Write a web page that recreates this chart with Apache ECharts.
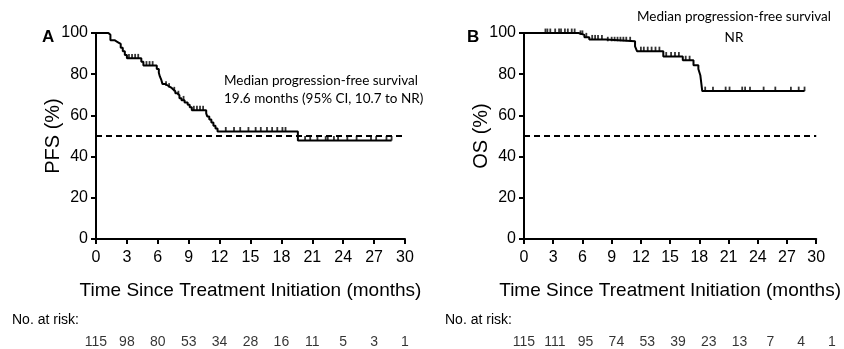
<!DOCTYPE html>
<html>
<head>
<meta charset="utf-8">
<script src="https://cdn.jsdelivr.net/npm/echarts@6/dist/echarts.min.js"></script>
<style>
html,body{margin:0;padding:0;background:#fff;}
#c{width:844px;height:349px;}
</style>
</head>
<body>
<div id="c"></div>
<script>
// ---- data ----
const xTicks = [0, 3, 6, 9, 12, 15, 18, 21, 24, 27, 30];
const yTicks = [0, 20, 40, 60, 80, 100];

const pfsTimes = [0, 1.2, 1.4, 1.8, 2.1, 2.4, 2.6, 2.8, 3.0, 4.4, 4.6, 5.9, 6.1, 6.2, 6.35, 6.45, 6.7, 7.0, 7.3, 7.5, 7.7, 7.9, 8.1, 8.3, 8.6, 8.9, 9.1, 9.3, 10.7, 10.8, 11.0, 11.2, 11.4, 11.6, 11.8, 19.6, 28.7];
const pfsSurv  = [100, 99.1, 96.5, 95.6, 94.7, 92.9, 91.1, 89.3, 87.7, 86.0, 84.2, 82.5, 80.7, 78.9, 77.1, 75.3, 74.4, 73.5, 72.6, 71.7, 70.7, 69.8, 68.3, 67.3, 66.3, 65.2, 63.9, 62.5, 61.0, 59.5, 58.0, 56.5, 55.0, 53.6, 52.2, 47.8, 47.8];
const pfsCensor = [3.2, 3.5, 3.8, 4.1, 4.9, 5.2, 5.5, 6.8, 7.1, 7.6, 8.0, 8.5, 9.5, 9.8, 10.1, 10.4, 12.6, 13.4, 14.0, 14.8, 15.5, 16.0, 16.6, 17.1, 17.6, 18.1, 18.4, 20.3, 20.8, 21.5, 22.3, 22.5, 23.1, 23.5, 24.4, 25.3, 26.7, 27.2, 28.2, 28.7];

const osTimes = [0, 5.6, 6.2, 6.7, 8.4, 11.4, 11.6, 14.3, 16.3, 17.4, 17.9, 18.1, 18.3, 28.8];
const osSurv  = [100, 99.1, 97.9, 96.9, 96.0, 93.5, 91.2, 88.6, 86.8, 84.4, 82.5, 79.5, 71.8, 71.8];
const osCensor = [2.2, 2.4, 2.7, 3.2, 3.6, 3.8, 4.2, 4.5, 4.9, 5.2, 5.8, 6.0, 6.4, 7.0, 7.3, 7.6, 8.0, 8.6, 9.0, 9.3, 9.6, 9.9, 10.2, 10.5, 10.9, 12.0, 12.3, 12.7, 13.1, 13.5, 13.9, 14.6, 15.1, 15.5, 15.9, 16.6, 17.0, 18.6, 19.4, 20.7, 21.1, 22.4, 22.7, 23.2, 24.6, 25.8, 27.4, 28.2, 28.8];

const riskTimes = [0, 3, 6, 9, 12, 15, 18, 21, 24, 27, 30];
const pfsAtRisk = [115, 98, 80, 53, 34, 28, 16, 11, 5, 3, 1];
const osAtRisk  = [115, 111, 95, 74, 53, 39, 23, 13, 7, 4, 1];

const xTitle = 'Time Since Treatment Initiation (months)';
const pfsNote = 'Median progression-free survival\n19.6 months (95% CI, 10.7 to NR)';
const osNote = 'Median progression-free survival\nNR';

// ---- helpers ----
function zip(a, b) { return a.map((v, i) => [v, b[i]]); }
function survAt(times, surv, t) {
  let s = surv[0];
  for (let i = 0; i < times.length; i++) { if (times[i] <= t) s = surv[i]; }
  return s;
}
const FONT = 'Liberation Sans, Arial, sans-serif';

function mainX(gi) {
  return {
    gridIndex: gi, type: 'value', min: 0, max: 30, interval: 3,
    axisLine: { show: true, onZero: false, lineStyle: { color: '#000', width: 2 } },
    axisTick: { show: true, length: 5, lineStyle: { color: '#000', width: 2 } },
    axisLabel: { color: '#000', fontSize: 16, fontFamily: FONT, margin: 11 },
    splitLine: { show: false },
    name: xTitle, nameLocation: 'middle', nameGap: 42, nameMoveOverlap: false,
    nameTextStyle: { color: '#000', fontSize: 19, fontFamily: FONT }
  };
}
function mainY(gi, name) {
  return {
    gridIndex: gi, type: 'value', min: 0, max: 100, interval: 20,
    axisLine: { show: true, onZero: false, lineStyle: { color: '#000', width: 2 } },
    axisTick: { show: true, length: 5, lineStyle: { color: '#000', width: 2 } },
    axisLabel: { color: '#000', fontSize: 16, fontFamily: FONT, margin: 8 },
    splitLine: { show: false },
    name: name, nameLocation: 'middle', nameGap: 33, nameRotate: 90, nameMoveOverlap: false,
    nameTextStyle: { color: '#000', fontSize: 20, fontFamily: FONT }
  };
}
function hiddenX(gi) { return { gridIndex: gi, type: 'value', min: 0, max: 30, show: false }; }
function hiddenY(gi) { return { gridIndex: gi, type: 'value', min: 0, max: 1, show: false }; }

function curve(xi, times, surv) {
  return {
    type: 'line', xAxisIndex: xi, yAxisIndex: xi, step: 'end', symbol: 'none',
    data: zip(times, surv), lineStyle: { color: '#000', width: 2 }, silent: true,
    markLine: {
      silent: true, symbol: 'none', label: { show: false },
      lineStyle: { color: '#000', width: 1.8, type: [6, 4] },
      data: [{ yAxis: 50 }]
    }
  };
}
function censor(xi, times, surv, cens) {
  return {
    type: 'scatter', xAxisIndex: xi, yAxisIndex: xi, symbol: 'rect',
    symbolSize: [1.8, 4.5], symbolOffset: [0, -2.2], silent: true,
    itemStyle: { color: '#000' },
    data: cens.map(t => [t, survAt(times, surv, t)])
  };
}
function risk(xi, counts) {
  return {
    type: 'scatter', xAxisIndex: xi, yAxisIndex: xi, symbolSize: 0, silent: true,
    data: riskTimes.map((t, i) => [t, 0.5, counts[i]]),
    label: { show: true, position: 'inside', formatter: p => String(p.value[2]),
             color: '#000', fontSize: 14, fontFamily: FONT }
  };
}

const chart = echarts.init(document.getElementById('c'), null, { renderer: 'canvas' });
chart.setOption({
  animation: false,
  backgroundColor: '#fff',
  grid: [
    { left: 96, top: 33, width: 309, height: 206 },
    { left: 524, top: 33, width: 308, height: 206 },
    { left: 96, top: 336, width: 309, height: 16 },
    { left: 524, top: 336, width: 308, height: 16 }
  ],
  xAxis: [mainX(0), mainX(1), hiddenX(2), hiddenX(3)],
  yAxis: [mainY(0, 'PFS (%)'), mainY(1, 'OS (%)'), hiddenY(2), hiddenY(3)],
  series: [
    curve(0, pfsTimes, pfsSurv),
    censor(0, pfsTimes, pfsSurv, pfsCensor),
    curve(1, osTimes, osSurv),
    censor(1, osTimes, osSurv, osCensor),
    risk(2, pfsAtRisk),
    risk(3, osAtRisk)
  ],
  graphic: [
    { type: 'text', left: 42, top: 29, style: { text: 'A', font: 'bold 17px ' + FONT, fill: '#000' } },
    { type: 'text', left: 467, top: 29, style: { text: 'B', font: 'bold 17px ' + FONT, fill: '#000' } },
    { type: 'text', left: 224, top: 72, style: { text: pfsNote, font: '13.5px Lato, sans-serif', fill: '#000', lineHeight: 18 } },
    { type: 'text', x: 734, y: 6, style: { text: osNote, font: '13.5px Lato, sans-serif', fill: '#000', lineHeight: 21, align: 'center' } },
    { type: 'text', left: 12, top: 313, style: { text: 'No. at risk:', font: '14px ' + FONT, fill: '#000' } },
    { type: 'text', left: 445, top: 313, style: { text: 'No. at risk:', font: '14px ' + FONT, fill: '#000' } }
  ]
});
</script>
</body>
</html>
